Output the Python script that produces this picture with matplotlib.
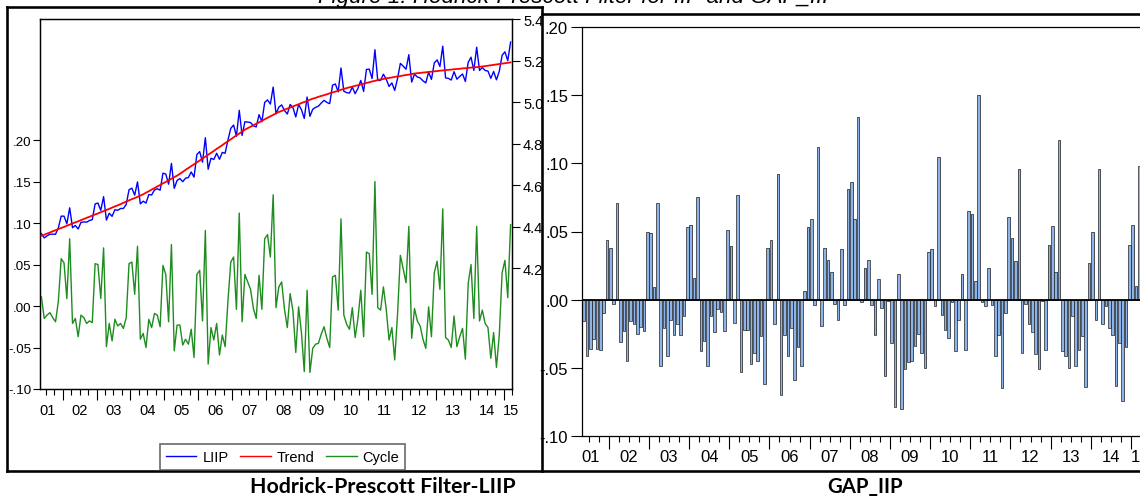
import matplotlib
matplotlib.use('Agg')
import matplotlib.pyplot as plt
import numpy as np
from matplotlib.lines import Line2D

# ---------------- data (monthly, May 2001 .. Mar 2015) ----------------
year_labels = ['01', '02', '03', '04', '05', '06', '07', '08', '09', '10', '11', '12', '13', '14', '15']

gap_iip = [
    -0.016, -0.041, -0.036, -0.029, -0.036, -0.037, -0.010, 0.044, 0.038, -0.003, 0.071, -0.031,
    -0.023, -0.045, -0.016, -0.018, -0.025, -0.020, -0.023, 0.050, 0.049, 0.009, 0.071, -0.049,
    -0.021, -0.041, -0.015, -0.026, -0.018, -0.026, -0.012, 0.053, 0.055, 0.016, 0.075, -0.038,
    -0.030, -0.049, -0.012, -0.024, -0.007, -0.009, -0.023, 0.051, 0.039, -0.017, 0.077, -0.053,
    -0.022, -0.022, -0.047, -0.039, -0.045, -0.027, -0.062, 0.038, 0.044, -0.018, 0.092, -0.070,
    -0.026, -0.041, -0.021, -0.059, -0.035, -0.049, 0.006, 0.053, 0.059, -0.004, 0.112, -0.019,
    0.038, 0.029, 0.020, -0.003, -0.015, 0.037, -0.004, 0.081, 0.086, 0.059, 0.134, -0.002,
    0.023, 0.029, -0.004, -0.026, 0.015, -0.006, -0.056, -0.001, -0.032, -0.079, 0.019, -0.080,
    -0.051, -0.046, -0.045, -0.034, -0.025, -0.039, -0.050, 0.035, 0.037, -0.005, 0.105, -0.011,
    -0.022, -0.028, -0.002, -0.038, -0.015, 0.019, -0.037, 0.065, 0.063, 0.014, 0.150, -0.002,
    -0.005, 0.023, -0.004, -0.041, -0.026, -0.065, -0.010, 0.061, 0.045, 0.028, 0.096, -0.039,
    -0.003, -0.018, -0.024, -0.040, -0.051, -0.001, -0.037, 0.040, 0.054, 0.020, 0.117, -0.038,
    -0.041, -0.050, -0.012, -0.049, -0.037, -0.027, -0.064, 0.027, 0.050, -0.015, 0.096, -0.018,
    -0.005, -0.021, -0.026, -0.063, -0.032, -0.074, -0.035, 0.040, 0.055, 0.010, 0.098,
]

cycle = [
    0.011, -0.015, -0.011, -0.008, -0.014, -0.019, 0.006, 0.057, 0.052, 0.009, 0.081, -0.021,
    -0.015, -0.037, -0.011, -0.014, -0.021, -0.018, -0.020, 0.051, 0.050, 0.009, 0.070, -0.049,
    -0.021, -0.042, -0.016, -0.024, -0.021, -0.027, -0.014, 0.051, 0.053, 0.014, 0.072, -0.040,
    -0.033, -0.050, -0.016, -0.026, -0.009, -0.011, -0.025, 0.049, 0.038, -0.019, 0.074, -0.054,
    -0.023, -0.023, -0.047, -0.040, -0.046, -0.028, -0.062, 0.038, 0.043, -0.018, 0.091, -0.070,
    -0.026, -0.041, -0.021, -0.059, -0.035, -0.049, 0.006, 0.053, 0.059, -0.004, 0.112, -0.019,
    0.038, 0.029, 0.020, -0.003, -0.015, 0.037, -0.004, 0.081, 0.086, 0.059, 0.134, -0.002,
    0.023, 0.029, -0.004, -0.026, 0.015, -0.006, -0.056, -0.001, -0.032, -0.079, 0.019, -0.080,
    -0.051, -0.046, -0.045, -0.034, -0.025, -0.039, -0.050, 0.035, 0.037, -0.005, 0.105, -0.011,
    -0.022, -0.028, -0.002, -0.038, -0.015, 0.019, -0.037, 0.065, 0.063, 0.014, 0.150, -0.002,
    -0.005, 0.023, -0.004, -0.041, -0.026, -0.065, -0.010, 0.061, 0.045, 0.028, 0.096, -0.039,
    -0.003, -0.018, -0.024, -0.040, -0.051, -0.001, -0.037, 0.040, 0.054, 0.020, 0.117, -0.038,
    -0.041, -0.050, -0.012, -0.049, -0.037, -0.027, -0.064, 0.027, 0.050, -0.015, 0.096, -0.018,
    -0.005, -0.021, -0.026, -0.063, -0.032, -0.074, -0.035, 0.040, 0.055, 0.010, 0.098,
]

trend = [
    4.355, 4.360, 4.366, 4.371, 4.377, 4.382, 4.388, 4.393, 4.398, 4.404, 4.409, 4.415,
    4.420, 4.425, 4.431, 4.436, 4.442, 4.447, 4.453, 4.458, 4.463, 4.469, 4.474, 4.480,
    4.485, 4.491, 4.497, 4.502, 4.508, 4.514, 4.520, 4.526, 4.532, 4.537, 4.543, 4.549,
    4.555, 4.563, 4.570, 4.578, 4.585, 4.593, 4.600, 4.608, 4.615, 4.623, 4.630, 4.638,
    4.645, 4.654, 4.663, 4.673, 4.682, 4.691, 4.700, 4.709, 4.718, 4.728, 4.737, 4.746,
    4.755, 4.764, 4.774, 4.783, 4.792, 4.802, 4.811, 4.820, 4.830, 4.839, 4.848, 4.858,
    4.867, 4.874, 4.881, 4.888, 4.895, 4.902, 4.909, 4.917, 4.924, 4.931, 4.938, 4.945,
    4.952, 4.957, 4.963, 4.968, 4.973, 4.979, 4.984, 4.989, 4.995, 5.000, 5.005, 5.011,
    5.016, 5.020, 5.025, 5.029, 5.033, 5.037, 5.042, 5.046, 5.050, 5.054, 5.059, 5.063,
    5.067, 5.071, 5.074, 5.078, 5.081, 5.085, 5.088, 5.092, 5.095, 5.099, 5.102, 5.106,
    5.109, 5.111, 5.114, 5.116, 5.118, 5.121, 5.123, 5.125, 5.128, 5.130, 5.132, 5.135,
    5.137, 5.139, 5.140, 5.142, 5.143, 5.145, 5.146, 5.148, 5.149, 5.151, 5.152, 5.154,
    5.155, 5.156, 5.158, 5.159, 5.160, 5.162, 5.163, 5.164, 5.166, 5.167, 5.168, 5.170,
    5.171, 5.173, 5.175, 5.177, 5.179, 5.181, 5.183, 5.185, 5.187, 5.189, 5.191,
]

left_ticks = [-0.10, -0.05, 0.00, 0.05, 0.10, 0.15, 0.20]
left_ticklabels = ['-.10', '-.05', '.00', '.05', '.10', '.15', '.20']
right_ticks = [4.2, 4.4, 4.6, 4.8, 5.0, 5.2, 5.4]
right_ticklabels = ['4.2', '4.4', '4.6', '4.8', '5.0', '5.2', '5.4']

gap = np.array(gap_iip)
cyc = np.array(cycle)
trd = np.array(trend)
liip = trd + cyc            # LIIP = trend + cycle (HP decomposition)
n = len(gap)
idx = np.arange(n)

# ---------------- layout helpers ----------------
W, H = 1140, 502
fig = plt.figure(figsize=(W / 100, H / 100), dpi=100)
plt.rcParams['font.family'] = ['Liberation Sans', 'DejaVu Sans']


def fx(x):
    return x / W


def fy(y):
    return 1 - y / H


def px2pt(p):
    return p * 72 / 100


# x ticks: month boundaries; major at Jan, minor quarterly
minor_pos = np.arange(1.5, n, 3.0)
major_pos = np.arange(7.5, n, 12.0)
label_pos = [2.0] + [13.5 + 12 * k for k in range(13)] + [166.3]

# ---------------- left panel ----------------
ax = fig.add_axes([fx(40), fy(390), (512 - 40) / W, (390 - 20) / H])
ax2 = ax.twinx()

ax.plot(idx, cyc, color='#1e8c1e', lw=1.0, zorder=3)
ax2.plot(idx, liip, color='#0000ff', lw=1.0, zorder=3)
ax2.plot(idx, trd, color='#ff0000', lw=1.3, zorder=4)

ax.set_xlim(-0.5, n - 0.5)
ax.set_ylim(-0.10, 0.3458)
ax2.set_ylim(3.617, 5.4)
ax.set_yticks(left_ticks)
ax.set_yticklabels(left_ticklabels)
ax2.set_yticks(right_ticks)
ax2.set_yticklabels(right_ticklabels)

for a in (ax, ax2):
    for s in a.spines.values():
        s.set_linewidth(0.9)
        s.set_color('black')
ax.tick_params(axis='y', direction='out', length=5, width=0.8, pad=1.0, labelsize=9.6)
ax2.tick_params(axis='y', direction='out', length=6, width=0.8, pad=2, labelsize=10.5)
ax.set_xticks(major_pos)
ax.set_xticks(minor_pos, minor=True)
ax.set_xticklabels([])
ax.tick_params(axis='x', which='major', direction='out', length=8, width=0.8)
ax.tick_params(axis='x', which='minor', direction='out', length=4, width=0.8)
for lab, p in zip(year_labels, label_pos):
    ax.text(p, (390 - 411) / 370, lab, transform=ax.get_xaxis_transform(),
            ha='center', va='center', fontsize=10.5)

handles = [Line2D([], [], color='#0000ff', lw=1.0),
           Line2D([], [], color='#ff0000', lw=1.0),
           Line2D([], [], color='#1e8c1e', lw=1.0)]
leg = fig.legend(handles, ['LIIP', 'Trend', 'Cycle'], loc='lower left',
                 bbox_to_anchor=(fx(160), fy(471)), ncol=3, frameon=True,
                 fancybox=False, borderaxespad=0, borderpad=0.4, handlelength=2.1,
                 handletextpad=0.4, columnspacing=0.8, prop={'size': 10.5})
leg.get_frame().set_edgecolor('#444444')
leg.get_frame().set_linewidth(1.2)

# ---------------- right panel ----------------
axr = fig.add_axes([fx(582), fy(437), (1141 - 582) / W, (437 - 28) / H])
axr.bar(idx + 0.25, gap, width=0.78, color='#c4c4c4', edgecolor='none', zorder=1)
axr.bar(idx, gap, width=0.78, color='#8db4e8', edgecolor='#111111', linewidth=0.45, zorder=2)
axr.axhline(0, color='black', lw=1.3, zorder=3)
axr.set_xlim(-0.5, n - 0.5)
axr.set_ylim(-0.10, 0.20)
axr.set_yticks(left_ticks)
axr.set_yticklabels(left_ticklabels)
for s in axr.spines.values():
    s.set_linewidth(0.9)
    s.set_color('black')
axr.tick_params(axis='y', direction='out', length=8, width=0.8, pad=2, labelsize=12)
axr.set_xticks(major_pos)
axr.set_xticks(minor_pos, minor=True)
axr.set_xticklabels([])
axr.tick_params(axis='x', which='major', direction='out', length=9, width=0.8)
axr.tick_params(axis='x', which='minor', direction='out', length=4, width=0.8)
for lab, p in zip(year_labels, label_pos):
    axr.text(p, (437 - 458) / 409, lab, transform=axr.get_xaxis_transform(),
             ha='center', va='center', fontsize=12, clip_on=False)

# ---------------- frames ----------------
lw = px2pt(2.6)


def fline(x0, y0, x1, y1):
    fig.add_artist(Line2D([fx(x0), fx(x1)], [fy(y0), fy(y1)], color='black', lw=lw,
                          solid_capstyle='projecting'))


fline(7.0, 8, 541.5, 8)      # left frame top
fline(7.0, 8, 7.0, 472)      # left frame left
fline(541.5, 8, 541.5, 472)  # divider
fline(541.5, 15, 1140, 15)   # right frame top
fline(7.0, 472, 1140, 472)   # bottom

# ---------------- captions ----------------
t_top = fig.text(fx(578), fy(3.5), 'Figure 1: Hodrick-Prescott Filter for IIP and GAP_IIP',
                 ha='center', va='baseline', style='italic', fontsize=13)
t1 = fig.text(fx(383), fy(493), 'Hodrick-Prescott Filter-LIIP', ha='center', va='baseline',
              fontsize=15, fontweight='bold', family=['Lato', 'DejaVu Sans'])
t2 = fig.text(fx(865), fy(493), 'GAP_IIP', ha='center', va='baseline',
              fontsize=15, fontweight='bold', family=['Lato', 'DejaVu Sans'])

fig.canvas.draw()
r = fig.canvas.get_renderer()
for t, wt in ((t_top, 515), (t1, 266), (t2, 76)):
    bb = t.get_window_extent(r)
    t.set_fontsize(t.get_fontsize() * wt / bb.width)

fig.savefig('out.png', dpi=100)
